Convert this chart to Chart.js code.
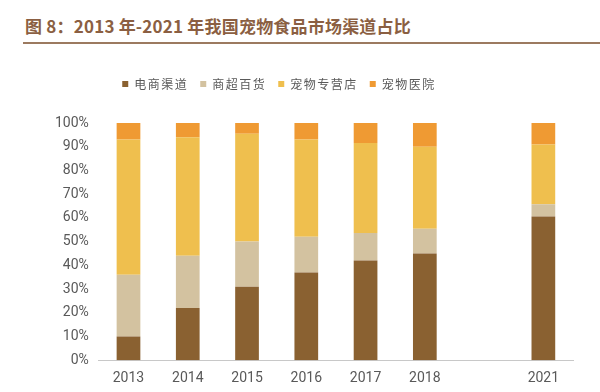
<!DOCTYPE html>
<html><head><meta charset="utf-8">
<script src="https://cdn.jsdelivr.net/npm/chart.js@4"></script>
<style>
html,body{margin:0;padding:0;background:#fff;width:600px;height:392px;overflow:hidden;}
#title{position:absolute;left:25px;top:13px;font-family:"Noto Sans CJK SC","Noto Sans",sans-serif;font-weight:bold;font-size:17px;color:#8B5F42;white-space:nowrap;letter-spacing:0.2px;}
#rule{position:absolute;left:23px;top:42px;width:577px;height:2px;background:#9C7A60;}
#wrap{position:absolute;left:0;top:52px;width:600px;height:345px;}
</style></head>
<body>
<div id="title">图 8：2013 年-2021 年我国宠物食品市场渠道占比</div>
<div id="rule"></div>
<div id="wrap"><canvas id="c"></canvas></div>
<script>
const categories = ["2013","2014","2015","2016","2017","2018","","2021"];
const ecommerce = [10, 22, 31, 37, 42, 45, null, 60.6];
const supermarket = [26, 22, 19, 15, 11.6, 10.4, null, 5.1];
const petStore = [57, 50, 45.5, 41, 38, 34.6, null, 25.2];
const petHospital = [7, 6, 4.5, 7, 8.4, 10, null, 9.1];
const seriesNames = ["电商渠道","商超百货","宠物专营店","宠物医院"];
const colors = ["#8A6131","#D3C2A0","#EFBF4E","#EF9A33"];
const values = [ecommerce, supermarket, petStore, petHospital];

const legendTweak = {
  id: 'legendTweak',
  afterInit(chart) {
    const lg = chart.legend;
    if (!lg || lg._tw) return;
    lg._tw = true;
    const fit = lg.fit, draw = lg.draw;
    lg.fit = function() {
      this.ctx.save(); this.ctx.letterSpacing = '1.5px';
      fit.call(this);
      this.ctx.restore();
      this.height += 23;
    };
    lg.draw = function() {
      this.ctx.save(); this.ctx.letterSpacing = '1.5px';
      this.ctx.translate(-30, 0);
      draw.call(this);
      this.ctx.restore();
    };
  }
};

new Chart(document.getElementById('c'), {
  type: 'bar',
  data: {
    labels: categories,
    datasets: values.map((v,i)=>({label: seriesNames[i], data: v, backgroundColor: colors[i], borderWidth: 0, categoryPercentage: 0.8, barPercentage: 0.5}))
  },
  options: {
    responsive: true, maintainAspectRatio: false, animation: false,
    layout: {padding: {left: 45, right: 27, top: 14, bottom: 0}},
    plugins: {
      legend: {position: 'top', labels: {boxWidth: 6, boxHeight: 6, padding: 12, color: '#595959', font: {family: '"Noto Sans CJK SC", sans-serif', size: 12}}},
      tooltip: {enabled: false}
    },
    scales: {
      x: {stacked: true, grid: {display: false, drawTicks: false}, border: {color: '#C8C8C8'},
          ticks: {color: '#595959', padding: 10, font: {family: 'Roboto, sans-serif', size: 14}}},
      y: {stacked: true, min: 0, max: 100, grid: {display: false, drawTicks: false}, border: {display: false},
          ticks: {stepSize: 10, padding: 10, color: '#595959', callback: v => v + '%', font: {family: 'Roboto, sans-serif', size: 14}}}
    }
  },
  plugins: [legendTweak]
});
</script>
</body></html>
